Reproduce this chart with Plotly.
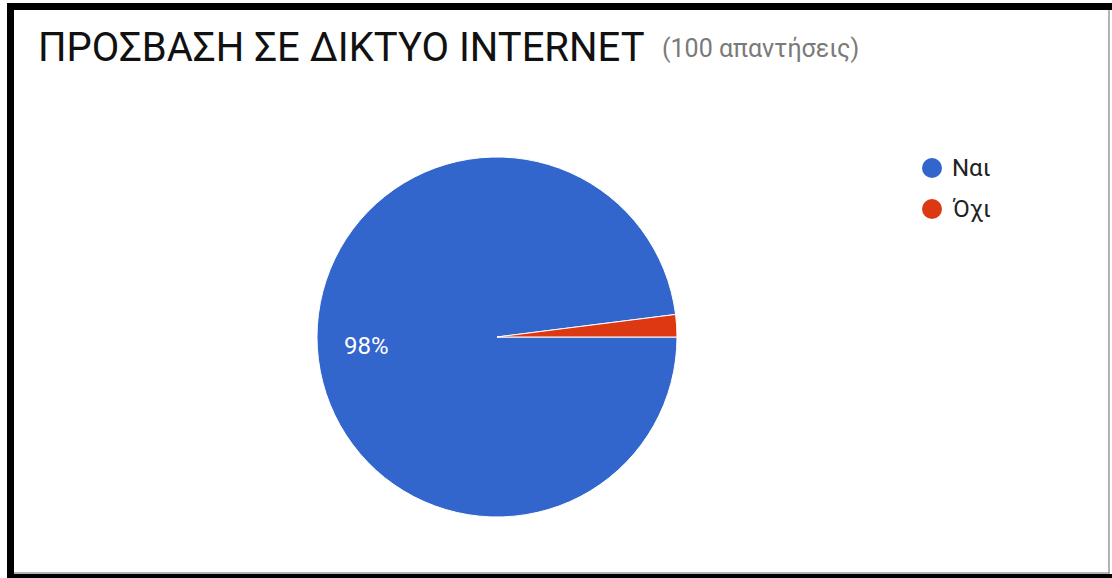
import plotly.graph_objects as go

# Survey answers: internet access
labels = ["Ναι", "Όχι"]
values = [98, 2]
colors = ["#3366CC", "#DC3912"]

title_text = "ΠΡΟΣΒΑΣΗ ΣΕ ΔΙΚΤΥΟ INTERNET"
subtitle_text = "(100 απαντήσεις)"

W, H = 1112, 578


def px(x):
    return x / W


def py(y):
    return 1 - y / H


fig = go.Figure()

fig.add_trace(go.Pie(
    labels=labels,
    values=values,
    marker=dict(colors=colors, line=dict(color="white", width=1)),
    sort=False,
    direction="clockwise",
    rotation=90,
    textinfo="none",
    hoverinfo="label+percent",
    showlegend=False,
    domain=dict(x=[px(317), px(677)], y=[py(517), py(157)]),
))

shapes = [
    # frame
    dict(type="rect", xref="paper", yref="paper", x0=px(7), x1=px(14), y0=0, y1=py(3),
         fillcolor="black", line=dict(width=0)),
    dict(type="rect", xref="paper", yref="paper", x0=px(7), x1=1, y0=py(10), y1=py(3),
         fillcolor="black", line=dict(width=0)),
    dict(type="rect", xref="paper", yref="paper", x0=px(7), x1=1, y0=0, y1=py(574),
         fillcolor="black", line=dict(width=0)),
    dict(type="line", xref="paper", yref="paper", x0=px(1109), x1=px(1109), y0=py(574), y1=py(10),
         line=dict(color="#9a9a9a", width=1.5)),
    dict(type="line", xref="paper", yref="paper", x0=px(14), x1=px(1109), y0=py(573), y1=py(573),
         line=dict(color="#9a9a9a", width=1.5)),
]

total = sum(values)
share_label = f"{round(100 * values[0] / total)}%"

annotations = [
    dict(text=title_text, xref="paper", yref="paper", x=px(36), y=py(48),
         xanchor="left", yanchor="middle", showarrow=False,
         font=dict(family="Roboto", size=40, color="#111111")),
    dict(text=subtitle_text, xref="paper", yref="paper", x=px(660), y=py(49),
         xanchor="left", yanchor="middle", showarrow=False,
         font=dict(family="Roboto", size=25, color="#7a7a7a")),
    # percentage of the large slice
    dict(text=share_label, xref="paper", yref="paper", x=px(366), y=py(346),
         xanchor="center", yanchor="middle", showarrow=False,
         font=dict(family="Roboto", size=24, color="white")),
]

# legend: coloured dots with labels
legend_x = 932
legend_y = [168, 209]
for lab, col, ly in zip(labels, colors, legend_y):
    r = 10
    shapes.append(dict(type="circle", xref="paper", yref="paper",
                       x0=px(legend_x - r), x1=px(legend_x + r),
                       y0=py(ly + r), y1=py(ly - r),
                       fillcolor=col, line=dict(width=0)))
    annotations.append(dict(text=lab, xref="paper", yref="paper", x=px(950), y=py(ly),
                            xanchor="left", yanchor="middle", showarrow=False,
                            font=dict(family="Roboto", size=24, color="#222222")))

fig.update_layout(
    width=W, height=H,
    margin=dict(l=0, r=0, t=0, b=0),
    paper_bgcolor="white",
    plot_bgcolor="white",
    shapes=shapes,
    annotations=annotations,
)

fig.write_html("out.html")
